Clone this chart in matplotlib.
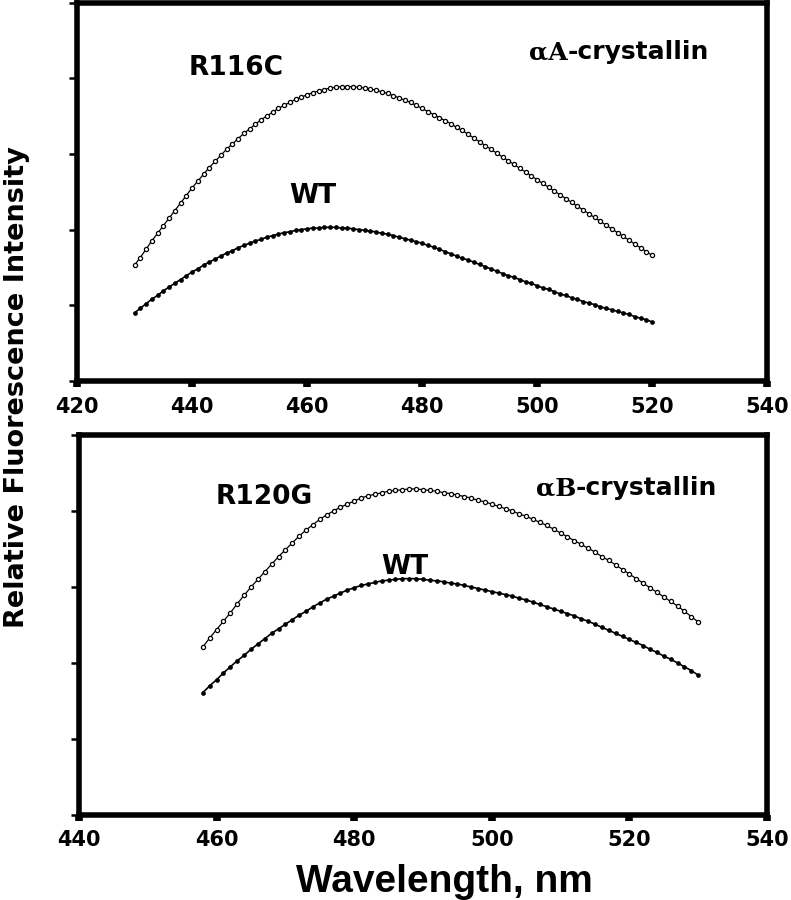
import matplotlib
matplotlib.use('Agg')
import matplotlib.pyplot as plt
import numpy as np

plt.rcParams['font.family'] = ['DejaVu Sans']
plt.rcParams['font.weight'] = 'bold'

# alpha A-crystallin (top panel), 430-520 nm
wl_a = np.arange(430, 521)
r116c = [1.53, 1.63, 1.74, 1.85, 1.95, 2.05, 2.15, 2.25, 2.35, 2.45,
         2.55, 2.64, 2.73, 2.82, 2.90, 2.98, 3.06, 3.13, 3.20, 3.27,
         3.33, 3.39, 3.45, 3.50, 3.55, 3.60, 3.64, 3.68, 3.72, 3.75,
         3.78, 3.81, 3.83, 3.85, 3.87, 3.88, 3.89, 3.89, 3.89, 3.88,
         3.87, 3.86, 3.84, 3.82, 3.80, 3.77, 3.74, 3.71, 3.68, 3.64,
         3.60, 3.56, 3.52, 3.48, 3.44, 3.40, 3.35, 3.31, 3.26, 3.21,
         3.16, 3.11, 3.06, 3.01, 2.96, 2.91, 2.86, 2.81, 2.76, 2.71,
         2.66, 2.61, 2.56, 2.51, 2.46, 2.41, 2.36, 2.31, 2.26, 2.21,
         2.16, 2.11, 2.06, 2.01, 1.96, 1.91, 1.86, 1.81, 1.76, 1.71,
         1.66]
wt_a = [0.90, 0.96, 1.02, 1.08, 1.13, 1.19, 1.24, 1.29, 1.34, 1.39,
        1.44, 1.48, 1.53, 1.57, 1.61, 1.65, 1.69, 1.72, 1.76, 1.79,
        1.82, 1.85, 1.87, 1.90, 1.92, 1.94, 1.96, 1.97, 1.99, 2.00,
        2.01, 2.02, 2.02, 2.03, 2.03, 2.03, 2.02, 2.02, 2.01, 2.00,
        1.99, 1.98, 1.97, 1.95, 1.94, 1.92, 1.90, 1.88, 1.86, 1.84,
        1.82, 1.79, 1.77, 1.74, 1.71, 1.68, 1.65, 1.62, 1.60, 1.57,
        1.54, 1.51, 1.48, 1.45, 1.42, 1.39, 1.37, 1.34, 1.31, 1.29,
        1.26, 1.23, 1.21, 1.18, 1.15, 1.13, 1.10, 1.08, 1.05, 1.03,
        1.01, 0.98, 0.96, 0.94, 0.92, 0.90, 0.88, 0.85, 0.83, 0.81,
        0.78]

# alpha B-crystallin (bottom panel), 458-530 nm
wl_b = np.arange(458, 531)
r120g = [2.21, 2.33, 2.44, 2.55, 2.66, 2.78, 2.89, 3.00, 3.10, 3.20,
         3.30, 3.40, 3.49, 3.58, 3.67, 3.75, 3.82, 3.89, 3.95, 4.00,
         4.05, 4.09, 4.13, 4.17, 4.20, 4.22, 4.24, 4.26, 4.27, 4.28,
         4.29, 4.29, 4.28, 4.27, 4.26, 4.24, 4.23, 4.21, 4.19, 4.17,
         4.14, 4.12, 4.09, 4.06, 4.03, 4.00, 3.96, 3.93, 3.89, 3.85,
         3.81, 3.76, 3.71, 3.66, 3.61, 3.56, 3.51, 3.46, 3.40, 3.35,
         3.29, 3.23, 3.17, 3.11, 3.05, 2.99, 2.93, 2.87, 2.81, 2.75,
         2.68, 2.61, 2.54]
wt_b = [1.61, 1.70, 1.78, 1.87, 1.95, 2.03, 2.10, 2.18, 2.25, 2.32,
        2.39, 2.45, 2.51, 2.57, 2.63, 2.68, 2.74, 2.79, 2.84, 2.88,
        2.92, 2.96, 2.99, 3.02, 3.04, 3.06, 3.08, 3.09, 3.10, 3.11,
        3.11, 3.11, 3.10, 3.09, 3.08, 3.07, 3.05, 3.04, 3.02, 3.00,
        2.98, 2.96, 2.94, 2.92, 2.90, 2.88, 2.85, 2.83, 2.80, 2.77,
        2.74, 2.71, 2.68, 2.65, 2.62, 2.58, 2.55, 2.51, 2.47, 2.43,
        2.39, 2.35, 2.31, 2.27, 2.23, 2.18, 2.14, 2.09, 2.05, 2.00,
        1.95, 1.90, 1.84]

xticks_a = [420, 440, 460, 480, 500, 520, 540]
xticks_b = [440, 460, 480, 500, 520, 540]

W, H = 791, 900
fig = plt.figure(figsize=(W / 100, H / 100), dpi=100)

def px_axes(left, top, right, bottom):
    return fig.add_axes([left / W, 1 - bottom / H, (right - left) / W, (bottom - top) / H])

ax1 = px_axes(77, 2.5, 767, 381)
ax2 = px_axes(79, 435, 767, 815)

def style(ax, xticks, pad):
    ax.set_xlim(xticks[0], xticks[-1])
    ax.set_ylim(0, 5)
    ax.set_xticks(xticks)
    ax.set_yticks(range(6))
    ax.set_yticklabels([])
    for s in ax.spines.values():
        s.set_linewidth(4)
    ax.tick_params(axis='x', direction='out', length=4.5, width=5.5,
                   labelsize=15, pad=pad)
    ax.tick_params(axis='y', direction='out', length=5.5, width=1.8)
    for lab in ax.get_xticklabels():
        lab.set_fontweight('bold')

def draw(ax, x, mut, wt):
    ax.plot(x, mut, color='black', lw=0.9, marker='o', ms=3.0,
            mfc='white', mec='black', mew=0.9)
    ax.plot(x, wt, color='black', lw=1.2, marker='o', ms=2.8,
            mfc='black', mec='black', mew=0.5)

draw(ax1, wl_a, r116c, wt_a)
draw(ax2, wl_b, r120g, wt_b)
style(ax1, xticks_a, 7)
style(ax2, xticks_b, 6)

def label(x, y, s):
    fig.text(x / W, 1 - y / H, s, ha='center', va='center',
             fontsize=19, fontweight='bold')

label(236, 68, 'R116C')
label(313, 196, 'WT')
label(264, 497, 'R120G')
label(405, 567, 'WT')

# crystallin names: greek part in serif, rest in sans
def crys(x, y, greek):
    fig.text(x / W, 1 - y / H, greek, ha='right', va='baseline', fontsize=18,
             fontweight='bold', family=['DejaVu Serif'])
    fig.text(x / W, 1 - y / H, '-crystallin', ha='left', va='baseline', fontsize=18,
             fontweight='bold')

crys(568, 59, '\u03b1A')
crys(576, 495, '\u03b1B')

fig.text(17 / W, 1 - 387 / H, 'Relative Fluorescence Intensity', rotation=90,
         ha='center', va='center', fontsize=19.5, fontweight='bold')
fig.text(444 / W, 1 - 892 / H, 'Wavelength, nm', ha='center', va='baseline',
         fontsize=28, fontweight='bold', family=['Liberation Sans'])

fig.savefig('out.png', dpi=100)
